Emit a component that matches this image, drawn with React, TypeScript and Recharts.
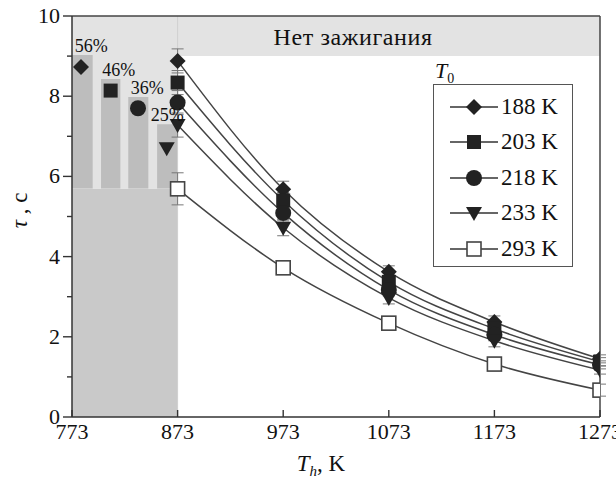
import {
  ComposedChart,
  Line,
  XAxis,
  YAxis,
  ErrorBar,
  ReferenceArea,
  ReferenceLine,
  Legend,
} from "recharts";

const FONT = "'Liberation Serif', 'Times New Roman', serif";

// heater temperature, K
const temps = [873, 973, 1073, 1173, 1273];
const xTicks = [773, 873, 973, 1073, 1173, 1273];
const yTicks = [0, 1, 2, 3, 4, 5, 6, 7, 8, 9, 10];

// ignition delay, s
const tau188 = [8.88, 5.68, 3.62, 2.37, 1.45];
const tau203 = [8.34, 5.4, 3.37, 2.2, 1.38];
const tau218 = [7.84, 5.09, 3.17, 2.05, 1.3];
const tau233 = [7.28, 4.72, 2.97, 1.9, 1.17];
const tau293 = [5.69, 3.72, 2.34, 1.32, 0.67];
const errCold = [0.3, 0.2, 0.15, 0.15, 0.1];
const err293 = [0.4, 0.15, 0.15, 0.15, 0.15];

// 873 K points shifted into the bar area
const shiftedT = [781.5, 809.6, 835.5, 862.7];
const shiftedTau = [8.73, 8.14, 7.7, 6.7];

// percentage bars
const barLeft = [773, 800.5, 826.3, 853.6];
const barRight = [792.6, 818.8, 845.3, 873];
const barTop = [9.03, 8.43, 7.98, 7.3];
const barBase = 5.7;
const barPct = ["56%", "46%", "36%", "25%"];
const barPctShift = [9, 8, 9, 0];

const noIgnition = 9;
const legendNames = ["188 K", "203 K", "218 K", "233 K", "293 K"];

const toRows = (vals: number[], errs: number[]) =>
  vals.map((v, i) => ({ T: temps[i], y: v, err: errs[i] }));

const Marker = ({ kind, cx, cy }: { kind: number; cx: number; cy: number }) => {
  const fill = "#222";
  if (kind === 0)
    return <polygon points={`${cx},${cy - 8} ${cx + 8},${cy} ${cx},${cy + 8} ${cx - 8},${cy}`} fill={fill} />;
  if (kind === 1) return <rect x={cx - 7} y={cy - 7} width={14} height={14} fill={fill} />;
  if (kind === 2) return <circle cx={cx} cy={cy} r={8} fill={fill} />;
  if (kind === 3)
    return <polygon points={`${cx - 8},${cy - 6} ${cx + 8},${cy - 6} ${cx},${cy + 8}`} fill={fill} />;
  return <rect x={cx - 7} y={cy - 7} width={14} height={14} fill="#fff" stroke="#444" strokeWidth={1.6} />;
};

const dotFor = (kind: number) => (p: any) => (
  <Marker key={`m-${kind}-${p.index}`} kind={kind} cx={p.cx} cy={p.cy} />
);

const YTick = ({ x, y, payload }: any) => {
  const major = payload.value % 2 === 0;
  return (
    <g>
      <line x1={x - (major ? 9 : 5)} x2={x} y1={y} y2={y} stroke="#333" strokeWidth={1.4} />
      {major && (
        <text x={x - 12} y={y + 7} textAnchor="end" fontFamily={FONT} fontSize={22} fill="#111">
          {payload.value}
        </text>
      )}
    </g>
  );
};

const XTick = ({ x, y, payload }: any) => (
  <g>
    <line x1={x} x2={x} y1={y} y2={y - 7} stroke="#333" strokeWidth={1.4} />
    <text x={x} y={y + 22} textAnchor="middle" fontFamily={FONT} fontSize={22} fill="#111">
      {payload.value}
    </text>
  </g>
);

const renderLegend = () => (
  <div style={{ fontFamily: FONT, color: "#111" }}>
    <div style={{ fontSize: 22, fontStyle: "italic", height: 26, lineHeight: "26px", marginLeft: 2 }}>
      T<sub style={{ fontStyle: "normal", fontSize: 14 }}>0</sub>
    </div>
    <div
      style={{
        border: "1.5px solid #555",
        width: 140,
        height: 183,
        boxSizing: "border-box",
        background: "#fff",
        paddingTop: 4,
      }}
    >
      {legendNames.map((name, i) => (
        <div key={name} style={{ display: "flex", alignItems: "center", height: 35.5 }}>
          <svg width={62} height={20} style={{ marginLeft: 14 }}>
            <line x1={2} x2={50} y1={10} y2={10} stroke="#333" strokeWidth={1.4} />
            <Marker kind={i} cx={26} cy={10} />
          </svg>
          <span style={{ fontSize: 23, marginLeft: -9 }}>{name}</span>
        </div>
      ))}
    </div>
  </div>
);

const series = [
  toRows(tau188, errCold),
  toRows(tau203, errCold),
  toRows(tau218, errCold),
  toRows(tau233, errCold),
  toRows(tau293, err293),
];

export default function App() {
  return (
    <div style={{ position: "absolute", left: 0, top: 0, background: "#fff" }}>
      <ComposedChart width={616} height={480} margin={{ top: 16, right: 16, bottom: 0, left: 0 }}>
        <XAxis
          type="number"
          dataKey="T"
          domain={[773, 1273]}
          ticks={xTicks}
          allowDataOverflow
          height={63}
          axisLine={{ stroke: "#333", strokeWidth: 1.5 }}
          tickLine={false}
          tickSize={0}
          tickMargin={0}
          tick={<XTick />}
          interval={0}
          label={{
            content: ({ viewBox }: any) => (
              <text x={viewBox.x + 249} y={viewBox.y + 54} textAnchor="middle" fontFamily={FONT} fontSize={23} fill="#111">
                <tspan fontStyle="italic">T</tspan>
                <tspan fontStyle="italic" fontSize={15} dy={5}>h</tspan>
                <tspan dy={-5}>, K</tspan>
              </text>
            ),
          }}
        />
        <YAxis
          type="number"
          dataKey="y"
          domain={[0, 10]}
          ticks={yTicks}
          allowDataOverflow
          width={72}
          axisLine={{ stroke: "#333", strokeWidth: 1.5 }}
          tickLine={false}
          tickSize={0}
          tickMargin={0}
          tick={<YTick />}
          interval={0}
          label={{
            content: ({ viewBox }: any) => (
              <text
                transform={`translate(${viewBox.x + 27}, ${viewBox.y + viewBox.height / 2 - 6}) rotate(-90)`}
                textAnchor="middle"
                fontFamily={FONT}
                fontSize={23}
                fill="#111"
              >
                <tspan fontStyle="italic">τ</tspan>
                <tspan> , c</tspan>
              </text>
            ),
          }}
        />

        <ReferenceArea x1={773} x2={873} y1={0} y2={barBase} fill="#c9c9c9" fillOpacity={1} stroke="none" />
        <ReferenceArea x1={773} x2={873} y1={barBase} y2={10} fill="#e3e3e3" fillOpacity={1} stroke="none" />
        <ReferenceArea
          x1={873}
          x2={1273}
          y1={noIgnition}
          y2={10}
          fill="#e3e3e3"
          fillOpacity={1}
          stroke="none"
          label={{
            value: "Нет зажигания",
            position: "insideLeft",
            offset: 96,
            fontFamily: FONT,
            fontSize: 24,
            letterSpacing: 0.6,
            fill: "#111",
          }}
        />
        {barTop.map((top, i) => (
          <ReferenceArea
            key={`bar-${i}`}
            x1={barLeft[i]}
            x2={barRight[i]}
            y1={barBase}
            y2={top}
            fill="#bdbdbd"
            fillOpacity={1}
            stroke="none"
            label={{ value: barPct[i], position: "top", offset: 3, dx: barPctShift[i], fontFamily: FONT, fontSize: 18, fill: "#111" }}
          />
        ))}
        <ReferenceLine x={873} stroke="#d0d0d0" strokeWidth={1} />
        <ReferenceLine y={10} stroke="#444" strokeWidth={1.5} />
        <ReferenceLine x={1273} stroke="#444" strokeWidth={1.5} />

        {series.map((rows, k) => (
          <Line
            key={`s-${k}`}
            data={rows}
            dataKey="y"
            type="monotone"
            stroke="#444"
            strokeWidth={1.5}
            dot={dotFor(k)}
            activeDot={false}
            legendType="none"
            isAnimationActive={false}
          >
            <ErrorBar dataKey="err" direction="y" width={6} stroke="#777" strokeWidth={1} />
          </Line>
        ))}
        {shiftedT.map((t, k) => (
          <Line
            key={`p-${k}`}
            data={[{ T: t, y: shiftedTau[k] }]}
            dataKey="y"
            stroke="none"
            dot={dotFor(k)}
            activeDot={false}
            legendType="none"
            isAnimationActive={false}
          />
        ))}

        <Legend
          content={renderLegend}
          layout="vertical"
          align="center"
          verticalAlign="middle"
          wrapperStyle={{ left: 433, top: 58, width: 140 }}
        />
      </ComposedChart>
    </div>
  );
}
